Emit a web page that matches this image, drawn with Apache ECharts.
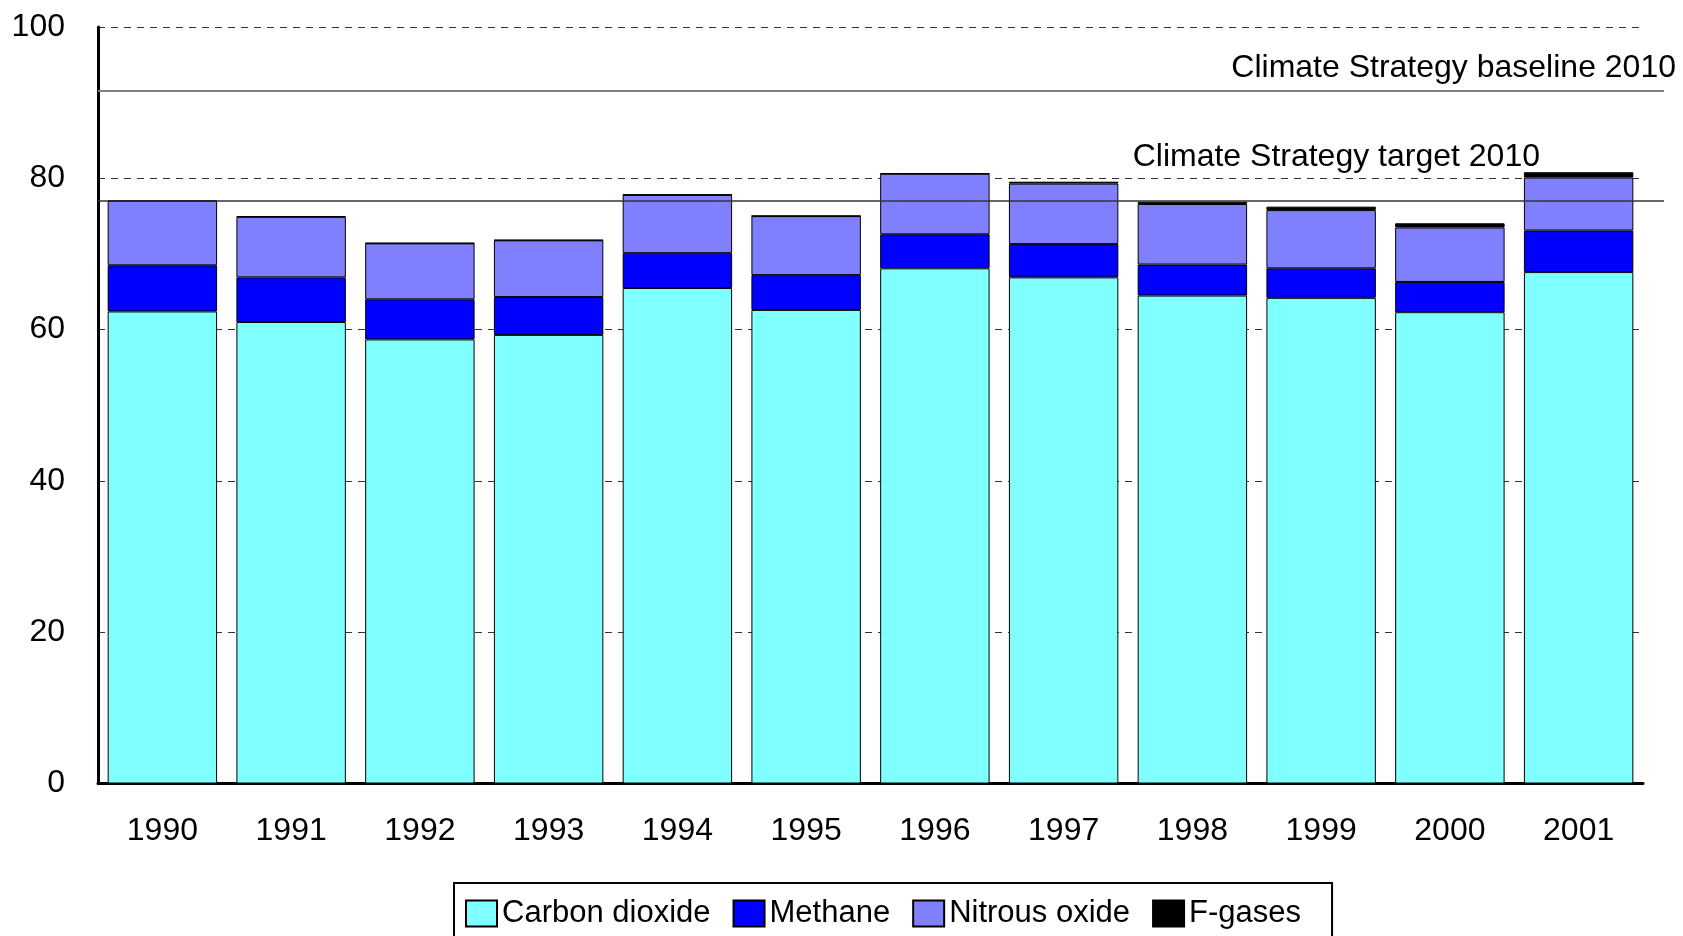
<!DOCTYPE html>
<html><head><meta charset="utf-8">
<script src="https://cdn.jsdelivr.net/npm/echarts@6/dist/echarts.min.js"></script>
<style>html,body{margin:0;padding:0;background:#fff}#c{width:1683px;height:936px}</style>
</head><body><div id="c"></div>
<script>
const years = ['1990','1991','1992','1993','1994','1995','1996','1997','1998','1999','2000','2001'];
const carbonDioxide = [62.4,61.0,58.7,59.3,65.5,62.6,68.1,66.9,64.5,64.2,62.3,67.6];
const methane = [6.1,5.9,5.3,5.0,4.6,4.6,4.5,4.4,4.1,3.9,4.0,5.5];
const nitrousOxide = [8.5,8.0,7.4,7.5,7.7,7.8,8.0,8.0,8.0,7.7,7.2,7.0];
const fGases = [0.1,0.1,0.05,0.05,0.05,0.05,0.05,0.25,0.3,0.45,0.55,0.7];
const baseline2010 = 91.6;
const target2010 = 77.0;
const yTicks = {min:0, max:100, interval:20};

const FONT = '"Liberation Sans", Arial, sans-serif';
const chart = echarts.init(document.getElementById('c'), null, {renderer:'canvas'});

function barSeries(name, data, color){
  return {
    name, type:'bar', stack:'total', data,
    xAxisIndex:0, yAxisIndex:0,
    barCategoryGap:'15%',
    itemStyle:{color, borderColor:'#000', borderWidth:1},
    emphasis:{disabled:true}
  };
}

chart.setOption({
  animation:false,
  backgroundColor:'#fff',
  textStyle:{fontFamily:FONT},
  grid:[
    {left:98, right:40, top:27, bottom:152.5, containLabel:false},
    {left:98, right:19, top:27, bottom:152.5, containLabel:false}
  ],
  legend:{
    data:['Carbon dioxide','Methane','Nitrous oxide','F-gases'],
    left:454, top:883,
    padding:[15,31,14,11],
    borderColor:'#000', borderWidth:2,
    itemWidth:31, itemHeight:26, itemGap:22,
    icon:'rect',
    textStyle:{fontSize:31, color:'#000', fontFamily:FONT}
  },
  xAxis:[
    {type:'category', data:years, gridIndex:0,
     axisLine:{lineStyle:{color:'#000', width:3}},
     axisTick:{show:false},
     axisLabel:{fontSize:32, color:'#000', margin:32, fontFamily:FONT},
     splitLine:{show:false}},
    {type:'value', gridIndex:1, min:0, max:1, show:false}
  ],
  yAxis:[
    {type:'value', gridIndex:0, min:yTicks.min, max:yTicks.max, interval:yTicks.interval,
     axisLine:{show:true, lineStyle:{color:'#000', width:3}},
     axisTick:{show:false},
     axisLabel:{fontSize:32, color:'#000', margin:33, fontFamily:FONT},
     splitLine:{show:true, lineStyle:{color:'#333', type:[7,6], width:1}}},
    {type:'value', gridIndex:1, min:yTicks.min, max:yTicks.max, show:false}
  ],
  series:[
    barSeries('Carbon dioxide', carbonDioxide, '#80FFFF'),
    barSeries('Methane', methane, '#0000FF'),
    barSeries('Nitrous oxide', nitrousOxide, '#8080FF'),
    barSeries('F-gases', fGases, '#000000'),
    {
      type:'line', xAxisIndex:1, yAxisIndex:1, data:[], silent:true,
      markLine:{
        symbol:'none', silent:true, animation:false,
        data:[
          {yAxis:baseline2010,
           lineStyle:{color:'#808080', width:2, type:'solid'},
           label:{show:true, position:'insideEndTop', formatter:'Climate Strategy baseline 2010',
                  fontSize:32, color:'#000', fontFamily:FONT, distance:[-12,6]}},
          {yAxis:target2010,
           lineStyle:{color:'#333', width:1.5, type:'solid'},
           label:{show:true, position:'insideEndTop', formatter:'Climate Strategy target 2010',
                  fontSize:32, color:'#000', fontFamily:FONT, distance:[124,28]}}
        ]
      }
    }
  ]
});
</script></body></html>
